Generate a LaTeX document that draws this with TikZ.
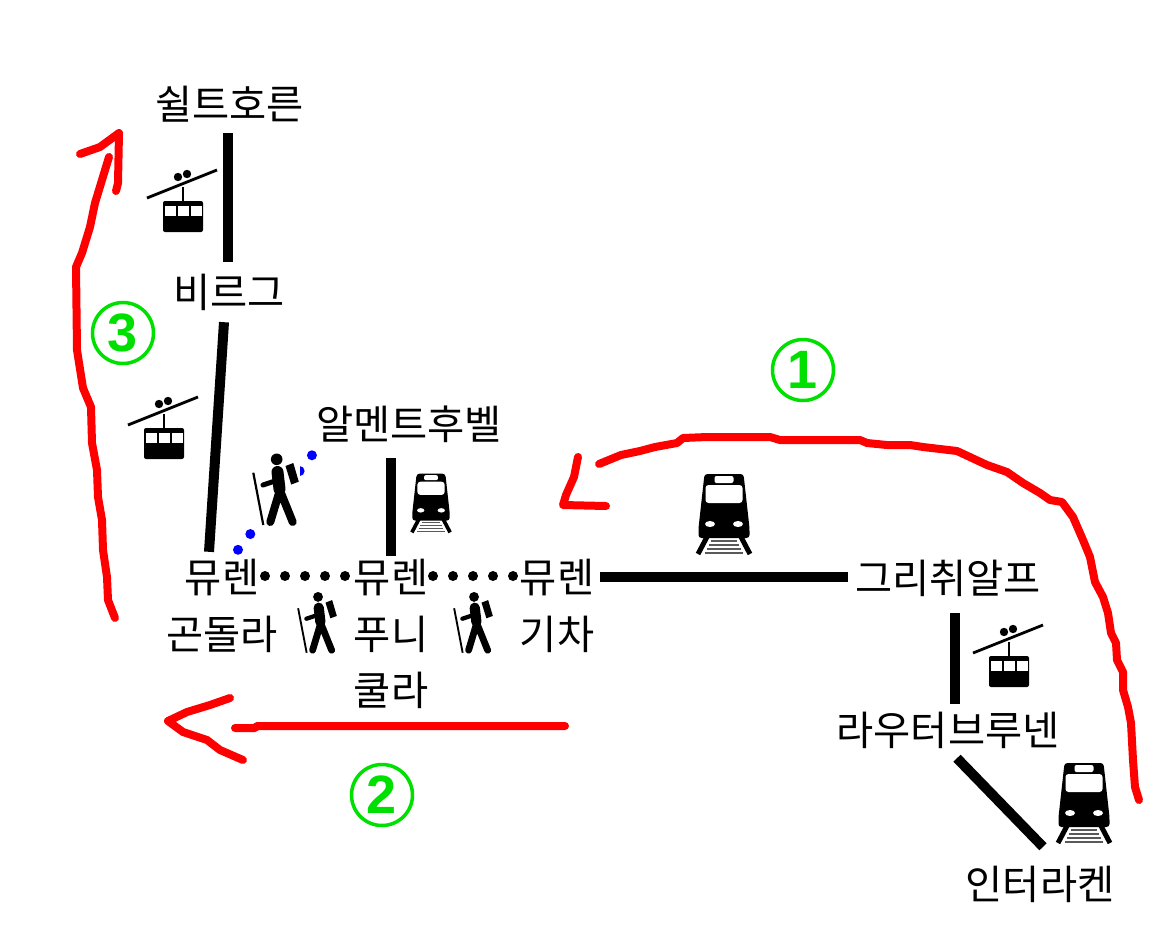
\documentclass[tikz,border=0pt]{standalone}
\usepackage{fontspec}
\setmainfont{Noto Sans CJK KR}
\setsansfont{Liberation Sans}
\usetikzlibrary{calc}
\definecolor{markgreen}{RGB}{0,224,0}

\begin{document}
\begin{tikzpicture}[x=1pt,y=-1pt,
  place/.style={inner sep=0pt,minimum height=58pt,text height=32pt,text depth=0pt,font=\fontsize{40.4pt}{40pt}\selectfont},
  rail/.style={line width=10pt,draw=black},
  trail/.style={line width=10pt,line cap=round,dash pattern=on 0pt off 20pt},
  stroke/.style={line width=8pt,draw=red,line cap=round,line join=round},
  badge/.style={circle,draw=markgreen,line width=3.5pt,text=markgreen,minimum size=61pt,inner sep=0pt,font=\sffamily\bfseries\fontsize{54pt}{54pt}\selectfont},
  pics/gondola/.style={code={
    \draw[line width=2.8pt] (-36,-3)--(34,-31);
    \draw[line width=2.4pt] (0,-14)--(0,0);
    \fill (-5,-24) circle (4.2pt) (4,-27) circle (4.2pt);
    \fill[rounded corners=2pt] (-20,0) rectangle (20,31);
    \foreach \wx in {-18,-5,8} {\fill[white] (\wx,5) rectangle ++(11,10);}
  }},
  pics/train/.style={code={
    \begin{scope}[scale=#1]
    \fill[rounded corners=3pt] (-19.5,-40)--(19.5,-40)--(25.5,14)--(25.5,24)--(-25.5,24)--(-25.5,14)--cycle;
    \fill[white,rounded corners=3pt] (-18.5,-29) rectangle (18.5,-11);
    \fill[white,rounded corners=2pt] (-9.5,-38) rectangle (9.5,-31);
    \fill[white] (-14,10) ellipse (5pt and 3pt) (14,10) ellipse (5pt and 3pt);
    \foreach \ry in {27,31,35,39} {\draw[black!65,line width=#1*1.4pt] ({-11-(\ry-24)*.53},\ry)--({11+(\ry-24)*.53},\ry);}
    \draw[line width=#1*5pt] (-16,21)--(-26,40) (16,21)--(26,40);
    \end{scope}
  }},
  pics/hiker/.style={code={
    \begin{scope}[scale=#1]
    \fill (1.7,-30.7) circle (5.8pt);
    \draw[line width=#1*12pt,line cap=round] (2.5,-18)--(4.5,-1);
    \draw[line width=#1*8pt,line cap=round] (4,3)--(-4.7,32) (6,3)--(17.7,32);
    \draw[line width=#1*5pt,line cap=round,line join=round] (0,-9)--(-12,-5);
    \fill (10.5,-24)--(18.3,-27)--(23.8,-8.3)--(16.2,-5.5)--cycle;
    \draw[line width=#1*2.2pt] (-21.7,-17.3)--(-11.7,35);
    \end{scope}
  }}]
\useasboundingbox (0,0) rectangle (1160,935);
\node[place] (schilt) at (229.5,103) {쉴트호른};
\node[place] (birg) at (229,291) {비르그};
\node[place] (almend) at (409,423) {알멘트후벨};
\node[place] (gondolaA) at (222,576) {뮤렌};
\node[place] (gondolaB) at (222,633) {곤돌라};
\node[place] (funiA) at (391,576) {뮤렌};
\node[place] (funiB) at (391,633) {푸니};
\node[place] (funiC) at (391,689) {쿨라};
\node[place] (trainA) at (557,576) {뮤렌};
\node[place] (trainB) at (557,633) {기차};
\node[place] (grutsch) at (948,577) {그리취알프};
\node[place] (lauter) at (948,729) {라우터브루넨};
\node[place] (inter) at (1040,883) {인터라켄};
% lines between stops
\draw[rail] ([xshift=-1.5pt,yshift=-1pt]schilt.south)--([xshift=-1pt]birg.north);
\draw[rail] ([xshift=-5pt,yshift=-2pt]birg.south)--([xshift=-13pt,yshift=-5pt]gondolaA.north);
\draw[rail] ([xshift=-18pt,yshift=-6pt]almend.south)--([yshift=-9pt]funiA.north);
\draw[rail] ([xshift=43pt,yshift=-1pt]trainA.center)--([xshift=-100pt]grutsch.center);
\draw[rail] ([xshift=7pt,yshift=-7pt]grutsch.south)--([xshift=7pt,yshift=-4pt]lauter.north);
\draw[rail] ([xshift=9pt]lauter.south)--([xshift=3pt,yshift=7pt]inter.north);
% walking paths
\draw[trail] ([xshift=43pt]gondolaA.center)--([xshift=-45.5pt]funiA.center);
\draw[trail] ([xshift=42pt]funiA.center)--([xshift=-43.5pt]trainA.center);
\draw[trail,blue] ([xshift=16pt,yshift=-3pt]gondolaA.north)--([xshift=-97pt,yshift=-3pt]almend.south);
\fill[white] (251,450) rectangle (300,527);
% icons
\pic (gondola1) at (183,201) {gondola};
\pic (gondola2) at (164,428) {gondola};
\pic (gondola3) at (1009,656) {gondola};
\pic (train1) at (724,514) {train=1};
\pic (train2) at (431,503) {train=.735};
\pic (train3) at (1084,803) {train=1};
\pic (hiker1) at (275,490) {hiker=1};
\pic (hiker2) at (316.6,623) {hiker=.85};
\pic (hiker3) at (472.6,623) {hiker=.85};
% numbered route
\node[badge] (markA) at (803,370) {1};
\node[badge] (markB) at (382,795) {2};
\node[badge] (markC) at (123,333) {3};
\coordinate (routeA) at (1139,800);
\coordinate (routeB) at (235,728);
\coordinate (routeC) at (115,618);
\draw[stroke] (routeA)--(1135,787)--(1133,760)--(1131,723)--(1128,707)--(1123,690)--(1123,672)--(1117,660)--(1116,643)--(1111,633)--(1108,613)--(1103,597)--(1095,582)--(1090,557)--(1083,540)--(1073,517)--(1062,502)--(1050,500)--(1040,493)--(1023,483)--(1007,472)--(987,465)--(957,451)--(923,447)--(910,445)--(887,445)--(867,443)--(860,440)--(780,440)--(770,437)--(707,437)--(683,438)--(677,443)--(655,447)--(640,451)--(621,455)--(599,464);
\draw[stroke] (578,457)--(574,477)--(566,495)--(563,505)--(606,506);
\draw[stroke] (routeB)--(255,728)--(257,726)--(565,726);
\draw[stroke] (230,698)--(210,705)--(187,712)--(168,721)--(183,732)--(207,740)--(220,750)--(243,760);
\draw[stroke] (routeC)--(108,600)--(107,577)--(103,550)--(102,520)--(98,497)--(97,470)--(92,443)--(91,407)--(83,388)--(77,350)--(76,267)--(82,253)--(90,227)--(95,203)--(102,180)--(109,157);
\draw[stroke] (80,154)--(100,147)--(119,133)--(118,183)--(116,191);
\end{tikzpicture}
\end{document}
